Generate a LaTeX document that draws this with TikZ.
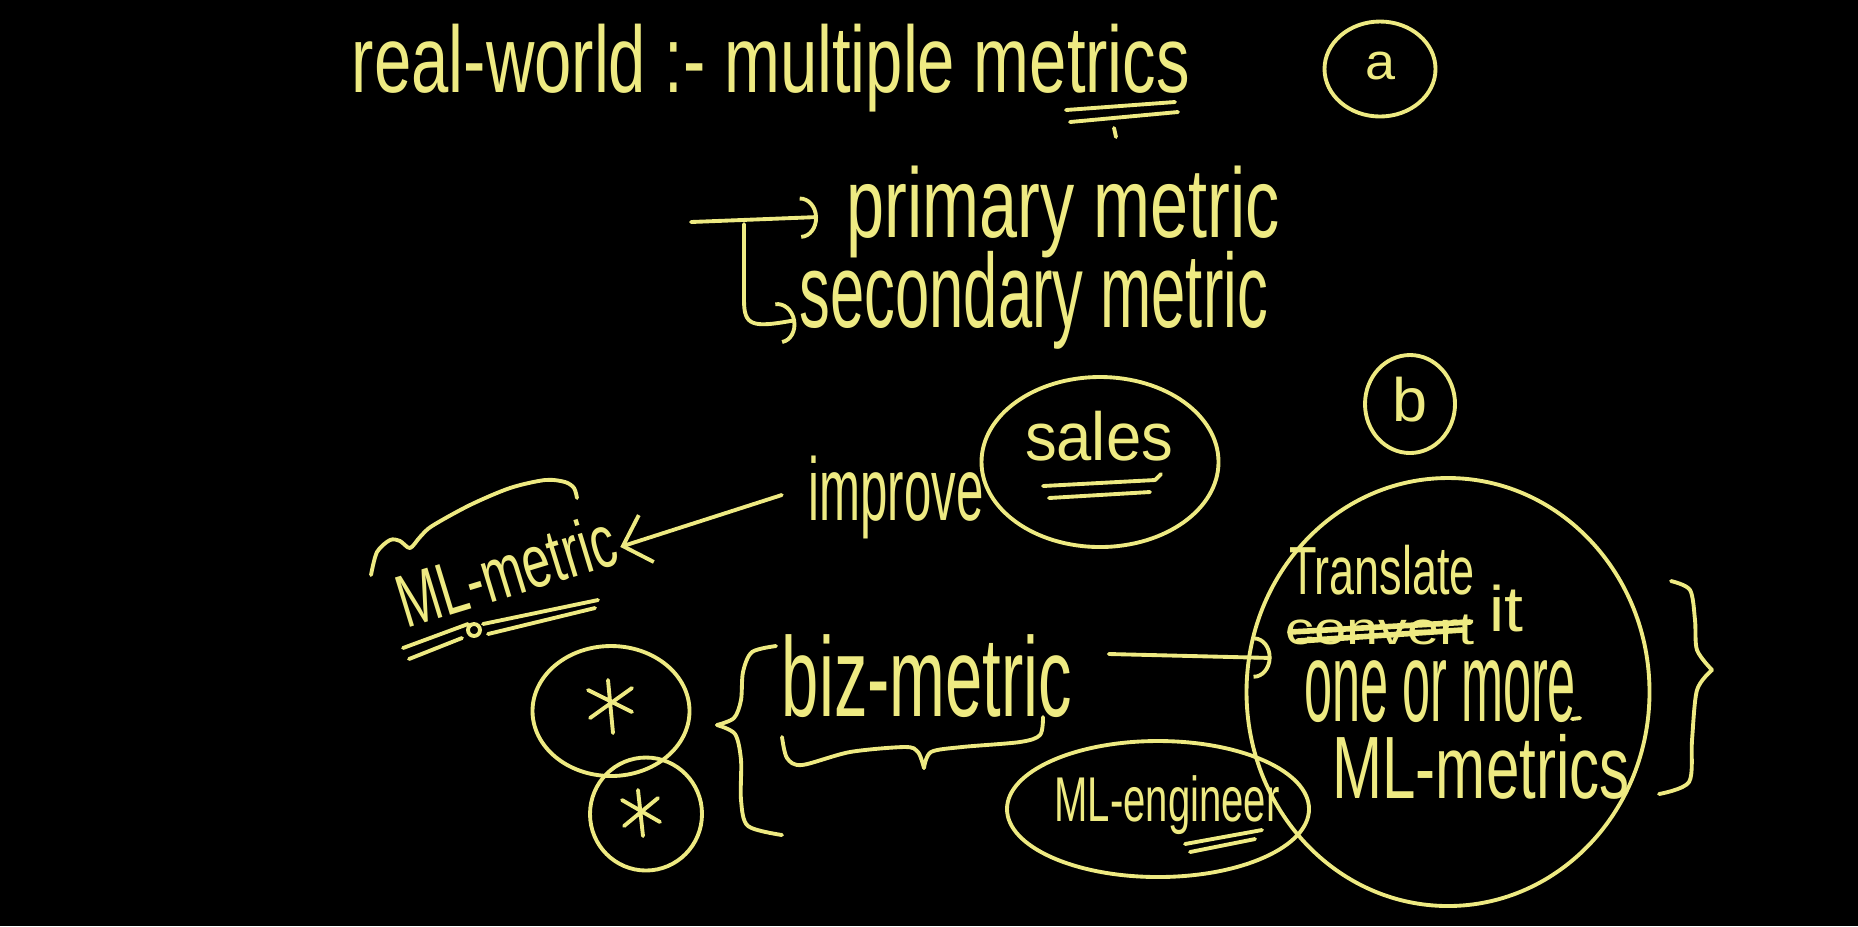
\documentclass[tikz,border=0pt]{standalone}
\usepackage{fontspec}
\setmainfont{Liberation Sans}
\usepackage{graphicx}
\usetikzlibrary{arrows.meta,shapes.geometric}
\definecolor{chalk}{RGB}{238,234,130}
\newlength\pxu
\setlength\pxu{0.01cm}
\newcommand{\hw}[3]{\resizebox*{#1\pxu}{#2\pxu}{#3}}
\begin{document}
\begin{tikzpicture}[x=0.01cm,y=-0.01cm,
  hwline/.style={draw=chalk,line width=1.1pt,line cap=round,line join=round},
  txt/.style={text=chalk,inner sep=0pt},
  ring/.style={ellipse,draw=chalk,line width=1.1pt,inner sep=0pt},
  archead/.style={-{Arc Barb[length=5pt,width=12pt]}},
  vhead/.style={-{Straight Barb[length=7pt,width=14pt]}}]
\fill[black] (0,0) rectangle (1858,926);
\useasboundingbox (0,0) rectangle (1858,926);

% texts
\node[txt] (title) at (771,68) {\hw{838}{88}{real-world :- multiple metrics}};
\node[txt] (prim) at (1063,212) {\hw{433}{92}{primary metric}};
\node[txt] (sec) at (1034,300) {\hw{468}{98}{secondary metric}};
\node[txt] (impr) at (896,497) {\hw{175}{83}{improve}};
\node[txt] (sales) at (1099,436) {\hw{148}{50}{sales}};
\node[txt,rotate=17] (mlm) at (506,570) {\hw{225}{55}{ML-metric}};
\node[txt] (biz) at (927,676) {\hw{290}{83}{biz-metric}};
\node[txt] (transl) at (1382,570) {\hw{186}{50}{Translate}};
\node[txt] (conv) at (1380,630) {\hw{189}{30}{convert}};
\node[txt] (it) at (1506,608) {\hw{34}{47}{it}};
\node[txt] (onemore) at (1440,692) {\hw{272}{62}{one or more}};
\node[txt] (mlms) at (1481,767) {\hw{297}{65}{ML-metrics}};
\node[txt] (mle) at (1167,805) {\hw{225}{59}{ML-engineer}};
\node[txt] (alab) at (1380,66) {\hw{30}{28}{a}};
\node[txt] (blab) at (1410,400) {\hw{35}{45}{b}};

% rings
\node[ring,minimum width=111\pxu,minimum height=95\pxu] (ca) at (1380,69) {};
\node[ring,minimum width=90\pxu,minimum height=98\pxu] (cb) at (1410,404) {};
\node[ring,minimum width=237\pxu,minimum height=170\pxu] (csales) at (1100,462) {};
\node[ring,minimum width=403\pxu,minimum height=428\pxu] (cbig) at (1448,692) {};
\node[ring,minimum width=302\pxu,minimum height=136\pxu] (cmle) at (1158,809) {};
\node[ring,minimum width=157\pxu,minimum height=130\pxu] (cs1) at (611,711) {};
\node[ring,minimum width=112\pxu,minimum height=113\pxu] (cs2) at (646,814) {};

% asterisks
\draw[hwline] (588,690) -- (632,712) (632,688) -- (590,718) (608,680) -- (613,733);
\draw[hwline] (622,800) -- (660,822) (658,798) -- (624,826) (638,790) -- (643,836);

% tree: primary / secondary
\coordinate (treeroot) at (691,222);
\coordinate (primtip) at (818,217);
\coordinate (treebend) at (744,224);
\coordinate (sectip) at (796,320);
\draw[hwline,archead] (treeroot) -- (primtip);
\draw[hwline,archead] (treebend) -- (744,300) .. controls (744,326) and (752,328) .. (sectip);

% improve -> ML-metric
\draw[hwline,vhead] ([xshift=-0.26cm,yshift=0.02cm]impr.west) -- ([xshift=0.06cm,yshift=-0.1cm]mlm.east);

% biz-metric -> big circle
\draw[hwline,archead] ([xshift=0.36cm,yshift=0.22cm]biz.east) -- ([xshift=0.27cm,yshift=0.34cm]cbig.west);

% wave over ML-metric
\draw[hwline] plot[smooth] coordinates {(371,575) (377,552) (390,540) (400,541) (410,548) (420,537) (432,526) (470,505) (510,488) (545,480) (565,482) (574,488) (577,498)};

% underlines
\draw[hwline] (1066,110) -- (1175,102) (1070,122) -- (1178,112);
\draw[hwline] (1114,128) -- (1116,137);
\draw[hwline] (1043,486) -- (1155,480) -- (1161,474) (1049,498) -- (1150,492);
\draw[hwline] (403,648) -- (468,624) (409,659) -- (462,638)
              (483,624) -- (598,600) (488,634) -- (595,608);
\draw[hwline] (474,630) circle[radius=6];
\draw[hwline] (1185,844) -- (1262,830) (1190,852) -- (1255,839);
\draw[hwline] (1572,719) -- (1580,718);

% strike through convert
\draw[hwline,line width=1.6pt] (1290,632) -- (1470,622) (1298,641) -- (1462,630);

% left curly brace
\draw[hwline] plot[smooth] coordinates {(776,646) (752,652) (743,672) (741,700) (734,718) (717,725)};
\draw[hwline] plot[smooth] coordinates {(717,725) (735,734) (741,760) (741,800) (748,826) (782,835)};

% brace under biz-metric
\draw[hwline] plot[smooth] coordinates {(782,737) (787,758) (802,765) (850,752) (905,747) (918,752) (924,768)};
\draw[hwline] plot[smooth] coordinates {(924,768) (931,752) (962,747) (1020,742) (1040,735) (1043,717)};

% right curly brace
\draw[hwline] plot[smooth] coordinates {(1671,581) (1690,590) (1695,620) (1697,650) (1712,670)};
\draw[hwline] plot[smooth] coordinates {(1712,670) (1697,690) (1692,740) (1689,782) (1659,794)};
\end{tikzpicture}
\end{document}
